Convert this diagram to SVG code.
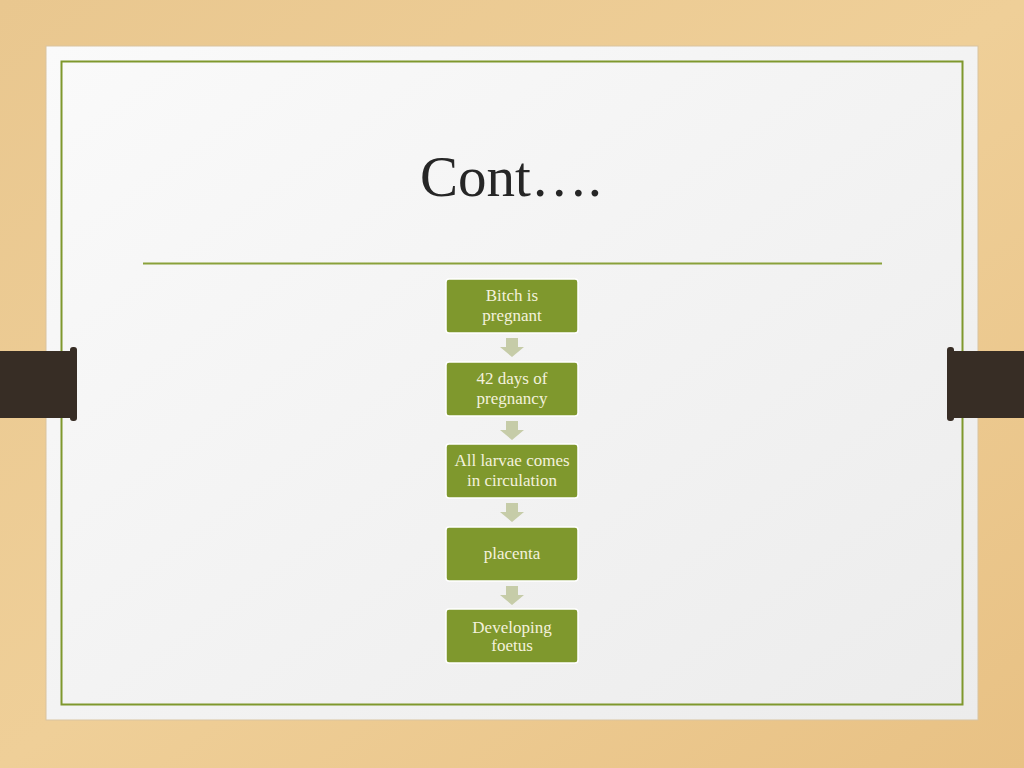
<svg xmlns="http://www.w3.org/2000/svg" width="1024" height="768" viewBox="0 0 1024 768">
<defs>
<linearGradient id="wood" x1="0" y1="0" x2="1" y2="1">
<stop offset="0" stop-color="#e9c78f"/>
<stop offset="0.5" stop-color="#efcf98"/>
<stop offset="1" stop-color="#e8c184"/>
</linearGradient>
<linearGradient id="card" x1="0" y1="0" x2="1" y2="1">
<stop offset="0" stop-color="#fafafa"/>
<stop offset="1" stop-color="#ececec"/>
</linearGradient>
<style>
.box{fill:#7f982d;stroke:#ffffff;stroke-width:1.5}
.lbl{font-family:"Liberation Serif",serif;font-size:17px;fill:#f3f1dc;text-anchor:middle}
.arr{fill:#c6cca8}
.tab{fill:#372d25}
</style>
</defs>
<rect width="1024" height="768" fill="url(#wood)"/>
<rect x="46" y="46" width="932" height="674" fill="url(#card)" stroke="#d9c4a0" stroke-width="1"/>
<rect x="61.5" y="61.5" width="901" height="643" fill="none" stroke="#7f982d" stroke-width="2"/>
<rect class="tab" x="0" y="351" width="76" height="67"/>
<rect class="tab" x="70" y="347" width="7" height="74" rx="3"/>
<rect class="tab" x="948" y="351" width="76" height="67"/>
<rect class="tab" x="947" y="347" width="7" height="74" rx="3"/>
<text x="511" y="196" font-family="Liberation Serif,serif" font-size="57" fill="#262626" text-anchor="middle">Cont….</text>
<line x1="143" y1="263.5" x2="882" y2="263.5" stroke="#8aa13a" stroke-width="2"/>
<g id="connectors">
<path class="arr" d="M506 338H518V347H524L512 357L500 347H506Z"/>
<path class="arr" d="M506 421H518V430H524L512 440L500 430H506Z"/>
<path class="arr" d="M506 503H518V512H524L512 522L500 512H506Z"/>
<path class="arr" d="M506 586H518V595H524L512 605L500 595H506Z"/>
</g>
<g id="n1"><rect class="box" x="446" y="279" width="132" height="54" rx="3"/>
<text class="lbl" x="512" y="301">Bitch is</text><text class="lbl" x="512" y="321">pregnant</text></g>
<g id="n2"><rect class="box" x="446" y="362" width="132" height="54" rx="3"/>
<text class="lbl" x="512" y="384">42 days of</text><text class="lbl" x="512" y="404">pregnancy</text></g>
<g id="n3"><rect class="box" x="446" y="444" width="132" height="54" rx="3"/>
<text class="lbl" x="512" y="466">All larvae comes</text><text class="lbl" x="512" y="486">in circulation</text></g>
<g id="n4"><rect class="box" x="446" y="527" width="132" height="54" rx="3"/>
<text class="lbl" x="512" y="559">placenta</text></g>
<g id="n5"><rect class="box" x="446" y="609" width="132" height="54" rx="3"/>
<text class="lbl" x="512" y="633">Developing</text><text class="lbl" x="512" y="651">foetus</text></g>
</svg>
